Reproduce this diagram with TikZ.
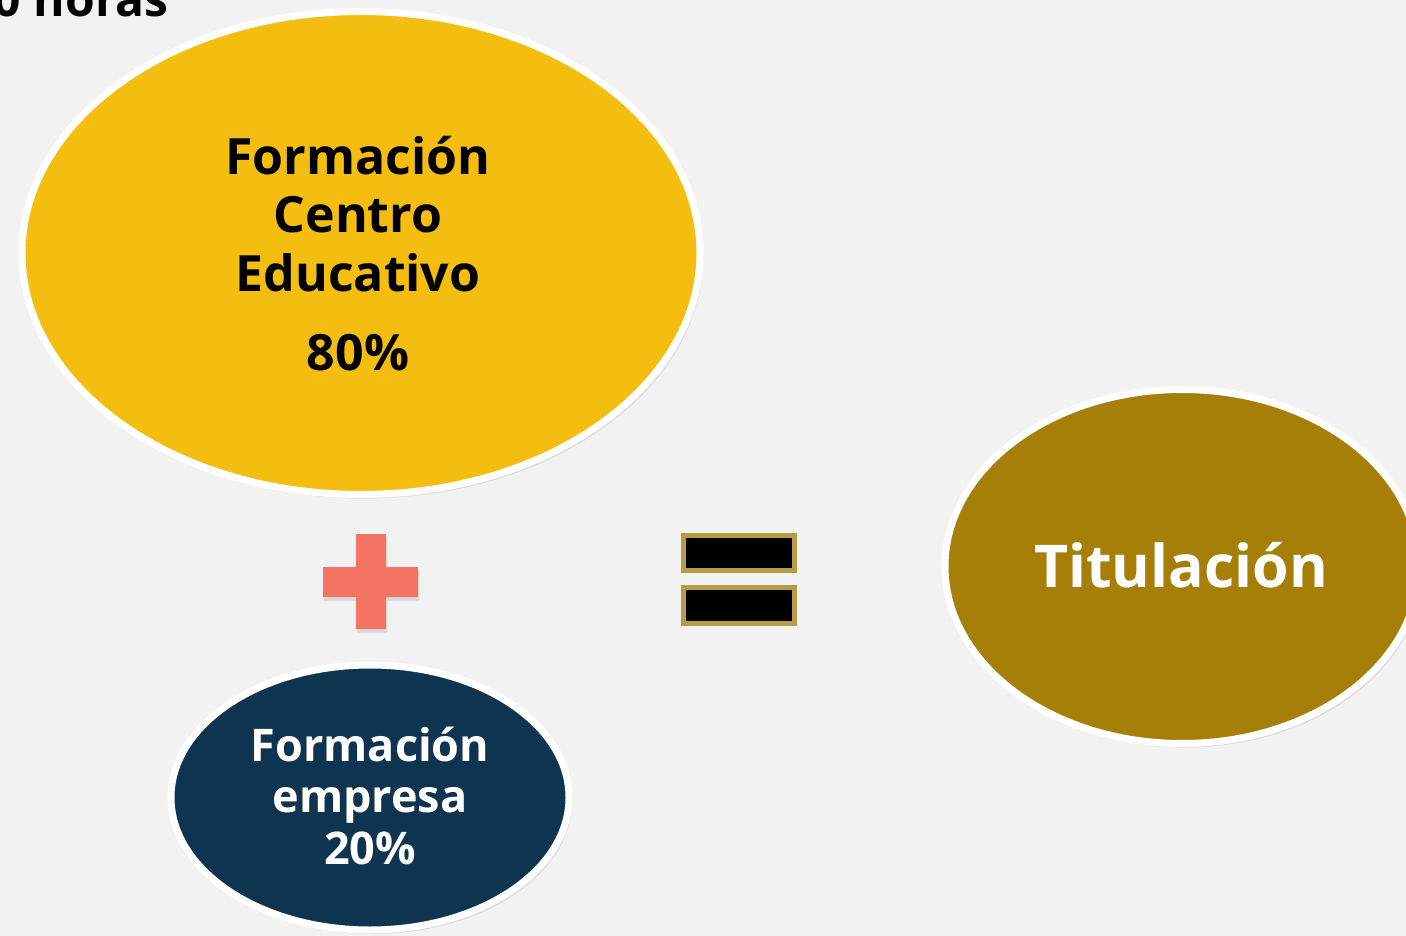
\documentclass[tikz,border=0pt]{standalone}
\usepackage{fontspec}
\setmainfont{Open Sans}
\usetikzlibrary{shapes.geometric,shadows}
\definecolor{bgc}{HTML}{F2F2F2}
\definecolor{cyellow}{HTML}{F3BE0F}
\definecolor{cnavy}{HTML}{0F3450}
\definecolor{cgold}{HTML}{A67F08}
\definecolor{cplus}{HTML}{F47464}
\definecolor{ceq}{HTML}{B89B46}
\begin{document}
\begin{tikzpicture}[x=1pt, y=-1pt,
  bubble/.style={ellipse, draw=white, line width=7pt, inner sep=0pt,
    drop shadow={shadow xshift=3pt, shadow yshift=-4pt, opacity=0.2}},
  bigtxt/.style={anchor=base, inner sep=0pt, font=\fontsize{50}{57}\selectfont\bfseries},
  midtxt/.style={anchor=base, inner sep=0pt, text=white, font=\fontsize{45}{52}\selectfont\bfseries}]
\fill[bgc] (0,0) rectangle (1406,936);
\useasboundingbox (0,0) rectangle (1406,936);
\node[anchor=base east, inner sep=0pt, font=\fontsize{48}{56}\selectfont\bfseries] (hrs) at (169,17) {0 horas};
% bubbles
\node[bubble, fill=cyellow, minimum width=678pt, minimum height=483pt] (fc) at (361,253) {};
\node[bigtxt] (fc0) at (358,175) {Formación};
\node[bigtxt] (fc1) at (358,233) {Centro};
\node[bigtxt] (fc2) at (358,291) {Educativo};
\node[bigtxt] (fc3) at (358,370) {80\%};
\node[bubble, fill=cnavy, minimum width=398pt, minimum height=265pt] (fe) at (370,797.5) {};
\node[midtxt] (fe0) at (370,761) {Formación};
\node[midtxt] (fe1) at (370,812) {empresa};
\node[midtxt] (fe2) at (370,864) {20\%};
\node[bubble, fill=cgold, minimum width=474pt, minimum height=354pt] (tit) at (1182,566.5) {};
\node[anchor=base, inner sep=0pt, text=white, font=\fontsize{59}{68}\selectfont\bfseries] (tit0) at (1181,587) {Titulación};
% plus
\fill[cplus, drop shadow={shadow xshift=1pt, shadow yshift=-4pt, opacity=0.2}]
  (356,534) -- (386,534) -- (386,567) -- (418,567) -- (418,597) -- (386,597)
  -- (386,629) -- (356,629) -- (356,597) -- (323,597) -- (323,567) -- (356,567) -- cycle;
% equals
\draw[ceq, line width=5pt, fill=black] (683.5,535.5) rectangle (794.5,570.5);
\draw[ceq, line width=5pt, fill=black] (683.5,587.5) rectangle (794.5,623.5);
\end{tikzpicture}
\end{document}
